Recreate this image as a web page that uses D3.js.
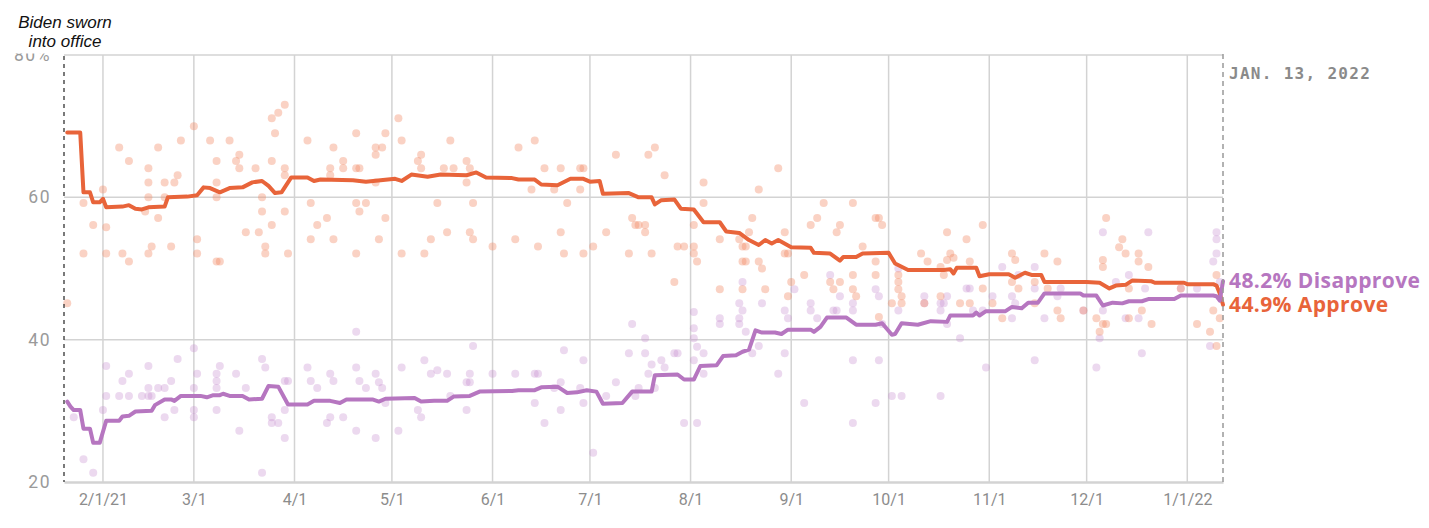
<!DOCTYPE html>
<html>
<head>
<meta charset="utf-8">
<script src="https://cdn.jsdelivr.net/npm/d3@7"></script>
<style>
  html, body { margin: 0; padding: 0; background: #fff; }
  svg { display: block; }
</style>
</head>
<body>
<svg id="chart" width="1429" height="528"></svg>
<script>
// ---------------- DATA ----------------
const startDate = "2021-01-20";
const endDate = "2022-01-12";
const yTickValues = [20, 40, 60, 80];
const yTickLabels = ["20", "40", "60", "80%"];
const xTickDates = ["2021-02-01","2021-03-01","2021-04-01","2021-05-01","2021-06-01","2021-07-01","2021-08-01","2021-09-01","2021-10-01","2021-11-01","2021-12-01","2022-01-01"];
const xTickLabels = ["2/1/21","3/1","4/1","5/1","6/1","7/1","8/1","9/1","10/1","11/1","12/1","1/1/22"];

const approveTrend = [
 ["2021-01-21",69.1],["2021-01-25",69.1],["2021-01-26",60.7],["2021-01-28",60.7],["2021-01-29",59.3],["2021-01-31",59.3],
 ["2021-02-01",59.8],["2021-02-02",58.6],["2021-02-07",58.7],["2021-02-09",58.9],["2021-02-11",58.4],["2021-02-13",58.3],
 ["2021-02-15",58.6],["2021-02-20",58.7],["2021-02-21",60.0],["2021-02-27",60.1],["2021-03-02",60.3],["2021-03-04",61.4],
 ["2021-03-06",61.3],["2021-03-09",60.7],["2021-03-12",61.3],["2021-03-16",61.4],["2021-03-19",62.1],["2021-03-22",62.3],
 ["2021-03-24",61.6],["2021-03-26",60.6],["2021-03-28",60.7],["2021-03-31",62.8],["2021-04-05",62.8],["2021-04-07",62.3],
 ["2021-04-09",62.5],["2021-04-19",62.4],["2021-04-23",62.2],["2021-05-02",62.6],["2021-05-04",62.3],["2021-05-07",63.2],
 ["2021-05-12",62.9],["2021-05-16",63.2],["2021-05-24",63.1],["2021-05-27",63.5],["2021-05-30",62.8],["2021-06-07",62.7],
 ["2021-06-09",62.5],["2021-06-14",62.5],["2021-06-16",61.8],["2021-06-21",61.7],["2021-06-25",62.6],["2021-06-29",62.6],
 ["2021-07-01",62.2],["2021-07-04",62.3],["2021-07-05",60.5],["2021-07-13",60.6],["2021-07-16",60.0],["2021-07-20",60.0],
 ["2021-07-21",59.0],["2021-07-23",59.6],["2021-07-27",59.7],["2021-07-29",58.4],["2021-08-02",58.3],["2021-08-05",56.5],
 ["2021-08-10",56.5],["2021-08-12",55.2],["2021-08-16",55.0],["2021-08-19",54.0],["2021-08-22",53.3],["2021-08-24",54.0],
 ["2021-08-26",53.5],["2021-08-28",54.0],["2021-09-01",53.0],["2021-09-07",52.9],["2021-09-08",52.2],["2021-09-13",52.1],
 ["2021-09-16",51.1],["2021-09-17",51.6],["2021-09-21",51.6],["2021-09-23",52.1],["2021-10-01",52.2],["2021-10-03",50.7],
 ["2021-10-07",49.8],["2021-10-18",49.8],["2021-10-20",49.9],["2021-10-21",49.3],["2021-10-22",50.1],["2021-10-28",50.1],
 ["2021-10-29",48.9],["2021-11-01",49.2],["2021-11-07",49.2],["2021-11-09",48.7],["2021-11-12",49.4],["2021-11-14",49.1],
 ["2021-11-17",49.1],["2021-11-18",48.1],["2021-12-01",48.1],["2021-12-05",48.0],["2021-12-08",47.2],["2021-12-10",47.6],
 ["2021-12-13",47.7],["2021-12-15",48.3],["2021-12-21",48.2],["2021-12-22",48.0],["2021-12-31",48.0],["2022-01-01",47.8],
 ["2022-01-09",47.8],["2022-01-10",47.6],["2022-01-11",46.5],["2022-01-12",44.9]
];

const disapproveTrend = [
 ["2021-01-21",31.3],["2021-01-22",30.6],["2021-01-23",30.1],["2021-01-25",30.1],["2021-01-26",27.5],["2021-01-28",27.5],
 ["2021-01-29",25.5],["2021-01-31",25.5],["2021-02-02",28.6],["2021-02-06",28.6],["2021-02-07",29.2],["2021-02-09",29.3],
 ["2021-02-11",29.9],["2021-02-16",30.0],["2021-02-17",30.8],["2021-02-20",31.6],["2021-02-22",31.6],["2021-02-23",31.4],
 ["2021-02-25",32.1],["2021-03-03",32.1],["2021-03-05",31.9],["2021-03-07",32.2],["2021-03-09",32.2],["2021-03-10",32.4],
 ["2021-03-12",32.1],["2021-03-16",32.1],["2021-03-18",31.6],["2021-03-22",31.7],["2021-03-24",33.5],["2021-03-27",33.4],
 ["2021-03-30",30.9],["2021-04-05",30.9],["2021-04-07",31.4],["2021-04-12",31.4],["2021-04-15",31.1],["2021-04-17",31.6],
 ["2021-04-25",31.6],["2021-04-27",31.3],["2021-04-29",31.7],["2021-05-08",31.8],["2021-05-10",31.3],["2021-05-14",31.4],
 ["2021-05-18",31.4],["2021-05-20",32.0],["2021-05-25",32.1],["2021-05-28",32.7],["2021-06-07",32.8],["2021-06-09",32.9],
 ["2021-06-14",32.9],["2021-06-16",33.3],["2021-06-21",33.4],["2021-06-24",32.5],["2021-06-27",32.6],["2021-06-30",32.9],
 ["2021-07-03",32.7],["2021-07-05",31.0],["2021-07-11",31.1],["2021-07-14",32.7],["2021-07-20",32.7],["2021-07-21",35.0],
 ["2021-07-28",35.1],["2021-07-30",34.4],["2021-08-02",34.4],["2021-08-04",36.3],["2021-08-09",36.4],["2021-08-11",37.7],
 ["2021-08-15",37.8],["2021-08-17",38.3],["2021-08-19",38.6],["2021-08-21",41.3],["2021-08-23",41.0],["2021-08-27",41.0],
 ["2021-08-29",40.8],["2021-08-31",41.4],["2021-09-07",41.4],["2021-09-08",41.1],["2021-09-10",41.8],["2021-09-12",43.1],
 ["2021-09-18",43.1],["2021-09-21",42.1],["2021-09-27",42.1],["2021-09-29",42.3],["2021-10-02",40.7],["2021-10-03",40.8],
 ["2021-10-05",42.3],["2021-10-10",42.1],["2021-10-14",42.6],["2021-10-19",42.5],["2021-10-20",43.4],["2021-10-27",43.4],
 ["2021-10-28",43.8],["2021-10-29",43.4],["2021-10-31",44.0],["2021-11-06",44.0],["2021-11-08",44.6],["2021-11-11",44.4],
 ["2021-11-13",45.2],["2021-11-16",45.2],["2021-11-18",46.5],["2021-11-29",46.5],["2021-11-30",46.2],["2021-12-04",46.2],
 ["2021-12-06",44.8],["2021-12-09",45.2],["2021-12-12",45.1],["2021-12-14",45.4],["2021-12-18",45.4],["2021-12-20",45.7],
 ["2021-12-28",45.7],["2021-12-30",46.2],["2022-01-09",46.2],["2022-01-10",46.1],["2022-01-11",45.5],["2022-01-12",48.2]
];

const approvePolls = [
 ["2021-01-21",45.1],["2021-01-26",59.2],["2021-01-26",52.1],["2021-01-29",56.1],["2021-02-01",61.1],["2021-02-02",55.8],
 ["2021-02-02",52.1],["2021-02-06",67.0],["2021-02-07",52.1],["2021-02-09",65.1],["2021-02-09",51.0],["2021-02-14",58.0],
 ["2021-02-15",64.1],["2021-02-15",62.1],["2021-02-15",60.0],["2021-02-15",52.1],["2021-02-16",53.1],["2021-02-18",67.0],
 ["2021-02-18",57.1],["2021-02-20",62.1],["2021-02-20",60.0],["2021-02-22",53.1],["2021-02-23",62.1],["2021-02-24",63.1],
 ["2021-02-25",68.0],["2021-03-01",70.0],["2021-03-02",54.1],["2021-03-02",52.1],["2021-03-06",68.0],["2021-03-08",65.1],
 ["2021-03-08",62.1],["2021-03-08",60.0],["2021-03-08",51.0],["2021-03-09",51.0],["2021-03-12",68.0],["2021-03-14",65.1],
 ["2021-03-15",66.0],["2021-03-15",64.1],["2021-03-17",55.1],["2021-03-20",64.1],["2021-03-21",55.1],["2021-03-22",60.0],
 ["2021-03-22",58.0],["2021-03-23",53.1],["2021-03-23",52.1],["2021-03-25",71.1],["2021-03-25",65.1],["2021-03-25",56.1],
 ["2021-03-26",69.0],["2021-03-27",71.9],["2021-03-29",73.0],["2021-03-29",64.1],["2021-03-29",63.1],["2021-03-29",58.0],
 ["2021-03-30",52.1],["2021-04-05",68.0],["2021-04-06",59.2],["2021-04-06",54.1],["2021-04-08",56.1],["2021-04-11",57.1],
 ["2021-04-12",64.1],["2021-04-12",63.1],["2021-04-13",67.0],["2021-04-13",54.1],["2021-04-16",65.1],["2021-04-16",64.1],
 ["2021-04-20",69.0],["2021-04-20",64.1],["2021-04-20",59.2],["2021-04-20",52.1],["2021-04-21",64.1],["2021-04-21",58.0],
 ["2021-04-23",59.2],["2021-04-26",67.0],["2021-04-26",66.0],["2021-04-26",62.1],["2021-04-27",54.1],["2021-04-28",67.0],
 ["2021-04-29",69.0],["2021-04-29",57.1],["2021-05-03",71.1],["2021-05-04",68.0],["2021-05-04",52.1],["2021-05-09",65.1],
 ["2021-05-10",66.0],["2021-05-10",64.1],["2021-05-11",52.1],["2021-05-13",54.1],["2021-05-15",59.2],["2021-05-17",64.1],
 ["2021-05-18",55.1],["2021-05-19",68.0],["2021-05-20",64.1],["2021-05-24",65.1],["2021-05-24",62.1],["2021-05-25",64.1],
 ["2021-05-25",55.1],["2021-05-26",59.2],["2021-05-26",54.1],["2021-06-01",53.1],["2021-06-08",54.1],["2021-06-09",67.0],
 ["2021-06-13",61.1],["2021-06-14",68.0],["2021-06-15",53.1],["2021-06-17",64.1],["2021-06-20",61.1],["2021-06-22",64.1],
 ["2021-06-22",55.1],["2021-06-23",52.1],["2021-06-24",59.2],["2021-06-28",64.1],["2021-06-28",61.1],["2021-06-29",64.1],
 ["2021-06-29",52.1],["2021-07-02",53.1],["2021-07-06",55.1],["2021-07-09",66.0],["2021-07-13",52.1],["2021-07-14",57.1],
 ["2021-07-15",56.1],["2021-07-16",56.1],["2021-07-18",56.1],["2021-07-18",55.1],["2021-07-19",66.0],["2021-07-20",52.1],
 ["2021-07-21",67.0],["2021-07-24",63.1],["2021-07-27",48.1],["2021-07-28",53.1],["2021-07-30",53.1],["2021-08-02",56.1],
 ["2021-08-02",53.1],["2021-08-02",52.1],["2021-08-03",51.0],["2021-08-05",62.1],["2021-08-05",59.2],["2021-08-10",54.1],
 ["2021-08-10",47.1],["2021-08-16",54.1],["2021-08-17",53.1],["2021-08-17",51.0],["2021-08-17",47.1],["2021-08-18",53.1],
 ["2021-08-18",51.0],["2021-08-19",55.1],["2021-08-20",57.1],["2021-08-22",61.1],["2021-08-22",51.0],["2021-08-23",50.0],
 ["2021-08-24",47.1],["2021-08-28",64.1],["2021-08-30",55.1],["2021-08-30",52.1],["2021-08-31",52.1],["2021-08-31",46.1],
 ["2021-09-01",48.1],["2021-09-05",49.1],["2021-09-07",56.1],["2021-09-09",57.1],["2021-09-11",59.2],["2021-09-13",48.1],
 ["2021-09-14",47.1],["2021-09-15",55.1],["2021-09-16",56.1],["2021-09-16",48.1],["2021-09-20",59.2],["2021-09-20",49.1],
 ["2021-09-20",47.1],["2021-09-21",46.1],["2021-09-23",53.1],["2021-09-27",57.1],["2021-09-27",51.0],["2021-09-27",49.1],
 ["2021-09-28",57.1],["2021-09-28",43.2],["2021-09-29",56.1],["2021-10-02",45.1],["2021-10-04",49.1],["2021-10-04",48.1],
 ["2021-10-04",47.1],["2021-10-05",46.1],["2021-10-05",45.1],["2021-10-11",52.1],["2021-10-13",51.0],["2021-10-12",45.1],
 ["2021-10-17",46.1],["2021-10-17",50.2],["2021-10-18",49.1],["2021-10-19",55.1],["2021-10-19",51.2],["2021-10-20",52.1],
 ["2021-10-21",51.5],["2021-10-23",45.1],["2021-10-25",54.1],["2021-10-26",51.0],["2021-10-26",45.1],["2021-10-30",56.1],
 ["2021-10-30",47.2],["2021-11-02",45.1],["2021-11-05",43.0],["2021-11-08",52.1],["2021-11-08",48.1],["2021-11-09",51.2],
 ["2021-11-10",47.2],["2021-11-15",48.1],["2021-11-15",45.1],["2021-11-18",52.1],["2021-11-19",47.2],["2021-11-22",51.0],
 ["2021-11-22",44.1],["2021-11-23",43.0],["2021-11-30",44.1],["2021-12-04",43.0],["2021-12-05",41.1],["2021-12-06",42.2],
 ["2021-12-06",51.2],["2021-12-06",50.2],["2021-12-07",42.2],["2021-12-07",57.1],["2021-12-11",53.0],["2021-12-12",54.1],
 ["2021-12-13",52.1],["2021-12-14",47.2],["2021-12-14",43.0],["2021-12-17",52.1],["2021-12-17",51.0],["2021-12-18",44.1],
 ["2021-12-20",50.2],["2021-12-21",42.2],["2021-12-30",47.2],["2022-01-04",42.2],["2022-01-08",41.1],["2022-01-09",44.1],
 ["2022-01-10",49.1],["2022-01-10",39.1],["2022-01-11",43.0]
];

const disapprovePolls = [
 ["2021-01-23",29.1],["2021-01-26",23.2],["2021-01-29",21.3],["2021-02-01",30.1],["2021-02-02",36.3],["2021-02-02",32.1],
 ["2021-02-06",32.1],["2021-02-07",34.2],["2021-02-09",35.2],["2021-02-09",32.1],["2021-02-13",32.1],["2021-02-15",36.3],
 ["2021-02-15",33.2],["2021-02-15",32.1],["2021-02-16",32.1],["2021-02-18",33.2],["2021-02-20",33.2],["2021-02-20",29.1],
 ["2021-02-22",34.2],["2021-02-23",30.1],["2021-02-24",37.3],["2021-03-01",38.8],["2021-03-01",33.2],["2021-03-01",30.1],
 ["2021-03-01",29.1],["2021-03-02",35.2],["2021-03-08",35.2],["2021-03-08",34.2],["2021-03-08",30.1],["2021-03-08",33.2],
 ["2021-03-09",36.3],["2021-03-14",35.2],["2021-03-15",27.2],["2021-03-17",33.2],["2021-03-22",37.3],["2021-03-22",21.3],
 ["2021-03-23",36.1],["2021-03-25",29.1],["2021-03-25",28.3],["2021-03-27",28.3],["2021-03-29",34.2],["2021-03-29",30.1],
 ["2021-03-29",26.2],["2021-03-30",34.2],["2021-04-05",36.1],["2021-04-06",34.2],["2021-04-08",33.2],["2021-04-11",28.3],
 ["2021-04-12",35.2],["2021-04-12",29.1],["2021-04-13",34.2],["2021-04-16",29.1],["2021-04-20",36.1],["2021-04-20",27.2],
 ["2021-04-20",41.1],["2021-04-21",34.2],["2021-04-23",33.2],["2021-04-26",35.2],["2021-04-26",26.2],["2021-04-27",34.0],
 ["2021-04-28",33.2],["2021-04-29",31.1],["2021-05-03",27.2],["2021-05-04",36.1],["2021-05-09",30.1],["2021-05-10",29.1],
 ["2021-05-11",37.1],["2021-05-13",35.2],["2021-05-15",35.7],["2021-05-18",35.2],["2021-05-19",32.1],["2021-05-24",34.0],
 ["2021-05-24",30.1],["2021-05-25",34.0],["2021-05-25",35.2],["2021-05-26",39.1],["2021-06-01",35.2],["2021-06-08",35.2],
 ["2021-06-14",35.2],["2021-06-14",31.1],["2021-06-15",35.2],["2021-06-17",28.3],["2021-06-20",33.2],["2021-06-22",34.0],
 ["2021-06-22",30.1],["2021-06-23",38.5],["2021-06-28",33.2],["2021-06-29",37.1],["2021-06-29",31.1],["2021-07-02",24.1],
 ["2021-07-06",32.1],["2021-07-09",34.0],["2021-07-13",38.1],["2021-07-14",42.2],["2021-07-15",32.1],["2021-07-16",33.2],
 ["2021-07-18",40.2],["2021-07-18",38.1],["2021-07-19",35.2],["2021-07-20",36.5],["2021-07-21",33.2],["2021-07-23",37.1],
 ["2021-07-24",36.1],["2021-07-27",38.1],["2021-07-28",38.1],["2021-07-30",28.3],["2021-08-02",43.9],["2021-08-02",41.6],
 ["2021-08-02",40.2],["2021-08-02",37.1],["2021-08-03",39.0],["2021-08-03",28.3],["2021-08-05",38.1],["2021-08-05",35.2],
 ["2021-08-10",43.0],["2021-08-10",42.2],["2021-08-16",45.1],["2021-08-16",43.0],["2021-08-16",42.2],["2021-08-17",48.1],
 ["2021-08-17",44.1],["2021-08-18",41.1],["2021-08-20",38.1],["2021-08-22",39.1],["2021-08-23",45.1],["2021-08-28",35.2],
 ["2021-08-30",44.1],["2021-08-30",38.1],["2021-08-31",43.0],["2021-09-02",47.1],["2021-09-05",31.1],["2021-09-07",45.1],
 ["2021-09-07",44.1],["2021-09-09",43.0],["2021-09-13",49.1],["2021-09-14",44.1],["2021-09-15",44.1],["2021-09-16",46.1],
 ["2021-09-20",45.1],["2021-09-20",44.1],["2021-09-20",37.1],["2021-09-20",28.3],["2021-09-27",47.1],["2021-09-27",31.1],
 ["2021-09-28",46.1],["2021-09-28",37.1],["2021-09-29",42.2],["2021-10-02",32.1],["2021-10-04",50.0],["2021-10-04",44.1],
 ["2021-10-05",32.1],["2021-10-12",46.1],["2021-10-12",45.1],["2021-10-17",45.1],["2021-10-17",44.1],["2021-10-17",32.1],
 ["2021-10-18",45.1],["2021-10-19",46.1],["2021-10-19",42.2],["2021-10-23",40.2],["2021-10-25",47.2],["2021-10-26",47.2],
 ["2021-10-27",44.1],["2021-10-30",44.1],["2021-10-31",36.1],["2021-11-02",46.1],["2021-11-05",50.2],["2021-11-08",46.1],
 ["2021-11-08",43.0],["2021-11-09",45.1],["2021-11-10",49.1],["2021-11-15",50.2],["2021-11-15",47.2],["2021-11-15",37.1],
 ["2021-11-18",43.0],["2021-11-22",46.1],["2021-11-23",47.2],["2021-11-30",44.1],["2021-12-04",36.1],["2021-12-05",40.2],
 ["2021-12-06",55.1],["2021-12-06",44.1],["2021-12-10",48.1],["2021-12-13",43.0],["2021-12-14",49.1],["2021-12-17",43.0],
 ["2021-12-18",38.1],["2021-12-20",55.1],["2021-12-19",47.2],["2021-12-30",47.2],["2022-01-04",47.2],["2022-01-08",39.1],
 ["2022-01-09",51.0],["2022-01-10",55.1],["2022-01-10",54.1],["2022-01-10",52.1],["2022-01-11",48.1]
];

const approveLabel = "44.9% Approve";
const disapproveLabel = "48.2% Disapprove";
const approveLast = 44.9;
const disapproveLast = 48.2;
const annotationLines = ["Biden sworn", "into office"];
const dateLabel = "JAN. 13, 2022";

// ---------------- CHART ----------------
const parse = d3.timeParse("%Y-%m-%d");
const svg = d3.select("#chart");
const x = d3.scaleTime().domain([parse(startDate), parse(endDate)]).range([64, 1223]);
const y = d3.scaleLinear().domain([20, 80]).range([482, 55]);

const C_APP = "#e8643a", C_DIS = "#b676c0";
const C_APP_DOT = "#f28a63", C_DIS_DOT = "#c68bcf";
const GRID = "#d3d3d3";
const x0 = x(parse(startDate)), x1 = x(parse(endDate));

// horizontal gridlines
svg.append("g").selectAll("line").data(yTickValues.filter(v => v > 20)).join("line")
  .attr("x1", x0).attr("x2", x1)
  .attr("y1", d => y(d)).attr("y2", d => y(d))
  .attr("stroke", GRID).attr("stroke-width", 1.5);

// vertical gridlines
svg.append("g").selectAll("line").data(xTickDates.map(parse)).join("line")
  .attr("x1", d => x(d)).attr("x2", d => x(d))
  .attr("y1", y(80)).attr("y2", y(20))
  .attr("stroke", GRID).attr("stroke-width", 1.5);

// x axis
const xAxis = d3.axisBottom(x).tickValues(xTickDates.map(parse))
  .tickFormat((d, i) => xTickLabels[i]).tickSize(0).tickPadding(12);
const gx = svg.append("g").attr("transform", `translate(0,${y(20)})`).call(xAxis);
gx.select(".domain").attr("stroke", GRID).attr("stroke-width", 2.5);
gx.selectAll("text").attr("fill", "#8c8c8c").style("font-family", "Roboto, 'DejaVu Sans', sans-serif")
  .style("font-size", "16px");

// y axis
const yAxis = d3.axisLeft(y).tickValues(yTickValues)
  .tickFormat((d, i) => yTickLabels[i]).tickSize(0).tickPadding(13);
const gy = svg.append("g").attr("transform", `translate(${x0},0)`).call(yAxis);
gy.select(".domain").remove();
gy.selectAll("text").attr("fill", "#9a9a9a").style("font-family", "Roboto, 'DejaVu Sans', sans-serif")
  .style("font-size", "17.5px").style("letter-spacing", "1.5px");

// poll dots
svg.append("g").selectAll("circle").data(disapprovePolls).join("circle")
  .attr("cx", d => x(parse(d[0]))).attr("cy", d => y(d[1])).attr("r", 4)
  .attr("fill", C_DIS_DOT).attr("fill-opacity", 0.33);
svg.append("g").selectAll("circle").data(approvePolls).join("circle")
  .attr("cx", d => x(parse(d[0]))).attr("cy", d => y(d[1])).attr("r", 4)
  .attr("fill", C_APP_DOT).attr("fill-opacity", 0.38);

// trend lines
const line = d3.line().x(d => x(parse(d[0]))).y(d => y(d[1]));
svg.append("path").datum(approveTrend).attr("d", line)
  .attr("fill", "none").attr("stroke", C_APP).attr("stroke-width", 4)
  .attr("stroke-linejoin", "round").attr("stroke-linecap", "round");
svg.append("path").datum(disapproveTrend).attr("d", line)
  .attr("fill", "none").attr("stroke", C_DIS).attr("stroke-width", 4)
  .attr("stroke-linejoin", "round").attr("stroke-linecap", "round");

// left dashed (inauguration) line
svg.append("line").attr("x1", x0).attr("x2", x0)
  .attr("y1", y(80) + 1).attr("y2", y(20))
  .attr("stroke", "#222").attr("stroke-width", 1.2).attr("stroke-dasharray", "4,4");

// right dashed line (latest date)
svg.append("line").attr("x1", x1).attr("x2", x1)
  .attr("y1", y(80) - 1).attr("y2", y(20) + 4)
  .attr("stroke", "#999").attr("stroke-width", 1.5).attr("stroke-dasharray", "5,4");

// annotation with white background (partly covers the top "80%" label, as in the original)
svg.append("rect").attr("x", 0).attr("y", 0).attr("width", 125).attr("height", y(80) - 1.5).attr("fill", "#fff");
svg.append("text").attr("y", 28)
  .attr("text-anchor", "middle").attr("fill", "#111")
  .style("font-family", "'Liberation Sans', Arial, sans-serif").style("font-style", "italic").style("font-size", "17px")
  .selectAll("tspan").data(annotationLines).join("tspan")
  .attr("x", x0 + 1).attr("dy", (d, i) => i === 0 ? 0 : 19).text(d => d);

// date label
svg.append("text").attr("x", x1 + 6).attr("y", 79)
  .attr("fill", "#8a8a8a").style("font-family", "'DejaVu Sans Mono', monospace").style("font-weight", "bold")
  .style("font-size", "16px").style("letter-spacing", "1.3px").text(dateLabel);

// end labels
svg.append("text").attr("x", x1 + 6).attr("y", y(disapproveLast) - 1)
  .attr("dominant-baseline", "central").attr("fill", C_DIS)
  .style("font-family", "'Open Sans', Roboto, sans-serif").style("font-weight", "bold").style("font-size", "21px")
  .style("letter-spacing", "0.4px").text(disapproveLabel);
svg.append("text").attr("x", x1 + 6).attr("y", y(approveLast) - 1)
  .attr("dominant-baseline", "central").attr("fill", C_APP)
  .style("font-family", "'Open Sans', Roboto, sans-serif").style("font-weight", "bold").style("font-size", "21px")
  .style("letter-spacing", "0.4px").text(approveLabel);
</script>
</body>
</html>
